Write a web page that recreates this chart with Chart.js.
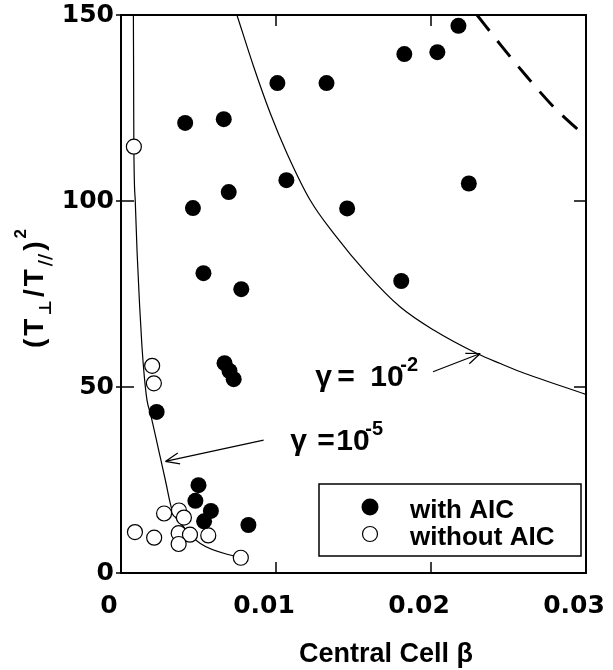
<!DOCTYPE html>
<html><head><meta charset="utf-8">
<script src="https://cdn.jsdelivr.net/npm/chart.js@4/dist/chart.umd.min.js"></script>
<style>html,body{margin:0;padding:0;background:#fff}</style>
</head><body>
<canvas id="c" width="613" height="670"></canvas>
<script>
// ---- data ----
const xTickValues = [0, 0.01, 0.02, 0.03];
const xTickLabels = ['0', '0.01', '0.02', '0.03'];
const yTickValues = [0, 50, 100, 150];
const yTickLabels = ['0', '50', '100', '150'];

const seriesNames = ['with AIC', 'without AIC'];

const withAIC_beta = [0.00414, 0.00663, 0.01009, 0.01326, 0.01828, 0.02041, 0.02177, 0.00464, 0.00695, 0.01067, 0.01459, 0.02244, 0.00532, 0.00776, 0.01808, 0.00668, 0.00700, 0.00727, 0.00230, 0.00500, 0.00480, 0.00580, 0.00536, 0.00822];
const withAIC_ratio = [121.0, 122.0, 131.7, 131.7, 139.5, 140.0, 147.1, 98.1, 102.4, 105.6, 98.0, 104.7, 80.6, 76.3, 78.5, 56.4, 54.3, 52.1, 43.3, 23.6, 19.4, 16.7, 13.9, 12.9];

const withoutAIC_beta = [0.00083, 0.00201, 0.00212, 0.00278, 0.00374, 0.00406, 0.00090, 0.00214, 0.00372, 0.00445, 0.00563, 0.00372, 0.00773];
const withoutAIC_ratio = [114.6, 55.7, 51.0, 16.0, 16.8, 14.9, 11.0, 9.5, 10.7, 10.3, 10.1, 7.8, 4.1];

const gamma5_beta = [0.00080, 0.00082, 0.00083, 0.00092, 0.00104, 0.00120, 0.00135, 0.00150, 0.00168, 0.00189, 0.00254, 0.00286, 0.00329, 0.00404, 0.00512, 0.00770];
const gamma5_ratio = [150, 125, 114.6, 100, 86, 72, 61, 53, 46.4, 43, 31, 25, 17, 12.4, 7.9, 4.0];

const gamma2_beta = [0.00748, 0.00856, 0.00963, 0.01071, 0.01221, 0.01372, 0.01587, 0.01802, 0.02017, 0.02297, 0.02447, 0.02577, 0.03];
const gamma2_ratio = [150, 136.1, 123.6, 112.8, 100.2, 91.3, 80.5, 71.5, 65.3, 59.0, 56.3, 54.1, 48.0];

const dashed_beta = [0.02297, 0.02458, 0.02619, 0.02791, 0.03];
const dashed_ratio = [150, 141.5, 133.4, 125.3, 117.2];

const xTitle = 'Central Cell β';
const annotationTexts = [['γ', '=', '10', '-2'], ['γ', '=', '10', '-5']];
// annotation anchors / arrows in data units
const annotationAnchors = [
  {x: 0.01254, y: 50.2, dx: [0, 22, 55, 85], from: [0.02013, 54.1], to: [0.02318, 59.0]},
  {x: 0.01092, y: 33.0, dx: [0, 27, 46, 75], from: [0.0092, 35.7], to: [0.00286, 30.0]}
];

const pts = (xs, ys) => xs.map((x, i) => ({x: x, y: ys[i]}));

const TICK_FONT = {family: "'DejaVu Sans', sans-serif", size: 25, weight: 'bold'};

const decor = {
  id: 'decor',
  afterDatasetsDraw(chart) {
    const ctx = chart.ctx, a = chart.chartArea;
    const xs = chart.scales.x, ys = chart.scales.y;
    ctx.save();
    ctx.strokeStyle = '#000'; ctx.fillStyle = '#000';
    // frame
    ctx.lineWidth = 2;
    ctx.strokeRect(a.left, a.top, a.right - a.left, a.bottom - a.top);
    // inward ticks
    ctx.lineWidth = 1.5;
    ctx.beginPath();
    xs.ticks.forEach(t => {
      if (t.value <= xs.min || t.value >= xs.max) return;
      const px = xs.getPixelForValue(t.value);
      ctx.moveTo(px, a.bottom); ctx.lineTo(px, a.bottom - 11);
      ctx.moveTo(px, a.top); ctx.lineTo(px, a.top + 11);
    });
    ys.ticks.forEach(t => {
      const py = ys.getPixelForValue(t.value);
      ctx.moveTo(a.left - 5, py); ctx.lineTo(a.left, py);
      if (t.value <= ys.min || t.value >= ys.max) return;
      ctx.moveTo(a.left, py); ctx.lineTo(a.left + 13, py);
      ctx.moveTo(a.right, py); ctx.lineTo(a.right - 12, py);
    });
    ctx.stroke();

    // annotations
    annotationAnchors.forEach((an, k) => {
      const bx = xs.getPixelForValue(an.x), by = ys.getPixelForValue(an.y);
      const parts = annotationTexts[k];
      ctx.textBaseline = 'alphabetic'; ctx.textAlign = 'left';
      parts.forEach((p, j) => {
        if (j === 3) {
          ctx.font = "bold 20px 'Liberation Sans Narrow', 'Liberation Sans', sans-serif";
          ctx.fillText(p, bx + an.dx[j], by - 15);
        } else {
          ctx.font = "bold 30px 'Liberation Sans Narrow', 'Liberation Sans', sans-serif";
          ctx.fillText(p, bx + an.dx[j], by);
        }
      });
      const fx = xs.getPixelForValue(an.from[0]), fy = ys.getPixelForValue(an.from[1]);
      const tx = xs.getPixelForValue(an.to[0]), ty = ys.getPixelForValue(an.to[1]);
      const ang = Math.atan2(ty - fy, tx - fx);
      ctx.lineWidth = 1.2;
      ctx.beginPath();
      ctx.moveTo(fx, fy); ctx.lineTo(tx, ty);
      const L = 15, w = 0.38;
      ctx.moveTo(tx, ty); ctx.lineTo(tx - L * Math.cos(ang - w), ty - L * Math.sin(ang - w));
      ctx.moveTo(tx, ty); ctx.lineTo(tx - L * Math.cos(ang + w), ty - L * Math.sin(ang + w));
      ctx.stroke();
    });

    // legend (from dataset labels)
    const lg = {left: a.left + 198, top: 484, right: a.right - 5, bottom: 556};
    ctx.fillStyle = '#fff';
    ctx.fillRect(lg.left, lg.top, lg.right - lg.left, lg.bottom - lg.top);
    ctx.lineWidth = 1.5; ctx.strokeStyle = '#000';
    ctx.strokeRect(lg.left, lg.top, lg.right - lg.left, lg.bottom - lg.top);
    const rows = [chart.data.datasets[0], chart.data.datasets[1]];
    rows.forEach((ds, i) => {
      const cy = lg.top + 23 + i * 27;
      ctx.beginPath();
      ctx.arc(lg.left + 51, cy, i === 0 ? 8.5 : 7.5, 0, Math.PI * 2);
      if (i === 0) { ctx.fillStyle = '#000'; ctx.fill(); }
      else { ctx.fillStyle = '#fff'; ctx.fill(); ctx.lineWidth = 1.2; ctx.stroke(); }
      ctx.fillStyle = '#000';
      ctx.font = "bold 26px 'Liberation Sans', Arial, sans-serif";
      ctx.textBaseline = 'alphabetic'; ctx.textAlign = 'left';
      ctx.fillText(ds.label, lg.left + 91, cy + 11);
    });

    // x title
    ctx.font = "bold 27px 'Liberation Sans', Arial, sans-serif";
    ctx.textAlign = 'left'; ctx.textBaseline = 'alphabetic';
    ctx.fillText(xTitle, a.left + 178, 662);

    // y title (T⊥/T//)^2 rotated
    ctx.translate(43, 348);
    ctx.rotate(-Math.PI / 2);
    const mainF = "bold 28px 'Liberation Sans', Arial, sans-serif";
    const subF = "bold 17px 'DejaVu Sans', sans-serif";
    const segs = [
      {t: '(', f: mainF, dy: 0}, {t: 'T', f: mainF, dy: 0}, {t: '⊥', f: subF, dy: 8},
      {t: '/', f: mainF, dy: 0}, {t: 'T', f: mainF, dy: 0}, {t: '//', f: subF, dy: 8},
      {t: ')', f: mainF, dy: 0}, {t: '2', f: "bold 17px 'Liberation Sans', Arial, sans-serif", dy: -17}
    ];
    let cx = 0;
    segs.forEach(s => {
      ctx.font = s.f;
      ctx.fillText(s.t, cx, s.dy);
      cx += ctx.measureText(s.t).width + 3;
    });
    ctx.restore();
  }
};

new Chart(document.getElementById('c'), {
  type: 'scatter',
  data: {
    datasets: [
      {label: seriesNames[0], data: pts(withAIC_beta, withAIC_ratio), order: 0,
       pointRadius: 8, pointHoverRadius: 8, backgroundColor: '#000', borderColor: '#000', borderWidth: 0},
      {label: seriesNames[1], data: pts(withoutAIC_beta, withoutAIC_ratio), order: 0,
       pointRadius: 7.5, pointHoverRadius: 7.5, backgroundColor: '#fff', borderColor: '#000', borderWidth: 1.2},
      {label: 'γ = 1e-5', data: pts(gamma5_beta, gamma5_ratio), order: 2, showLine: true, pointRadius: 0,
       borderColor: '#000', borderWidth: 1.2, cubicInterpolationMode: 'monotone'},
      {label: 'γ = 1e-2', data: pts(gamma2_beta, gamma2_ratio), order: 2, showLine: true, pointRadius: 0,
       borderColor: '#000', borderWidth: 1.2, cubicInterpolationMode: 'monotone'},
      {label: 'dashed', data: pts(dashed_beta, dashed_ratio), order: 2, showLine: true, pointRadius: 0,
       borderColor: '#000', borderWidth: 3, borderDash: [20, 13], cubicInterpolationMode: 'monotone'}
    ]
  },
  options: {
    responsive: false, animation: false, devicePixelRatio: 1,
    layout: {padding: {top: 15, right: 27, left: 0, bottom: 0}},
    plugins: {legend: {display: false}, tooltip: {enabled: false}, title: {display: false}},
    scales: {
      x: {
        type: 'linear', min: 0, max: 0.03,
        afterBuildTicks: s => { s.ticks = xTickValues.map(v => ({value: v})); },
        ticks: {callback: (v, i) => xTickLabels[i], font: TICK_FONT, color: '#000', padding: 18,
                labelOffset: -12, maxRotation: 0, autoSkip: false},
        grid: {display: false, drawTicks: false}, border: {display: false},
        afterFit: s => { s.height = 97; s.paddingLeft = 0; s.paddingRight = 0; }
      },
      y: {
        type: 'linear', min: 0, max: 150,
        afterBuildTicks: s => { s.ticks = yTickValues.map(v => ({value: v})); },
        ticks: {callback: (v, i) => yTickLabels[i], font: TICK_FONT, color: '#000', padding: 7, autoSkip: false},
        grid: {display: false, drawTicks: false}, border: {display: false},
        afterFit: s => { s.width = 121; s.paddingTop = 0; s.paddingBottom = 0; }
      }
    }
  },
  plugins: [decor]
});
</script>
</body></html>
